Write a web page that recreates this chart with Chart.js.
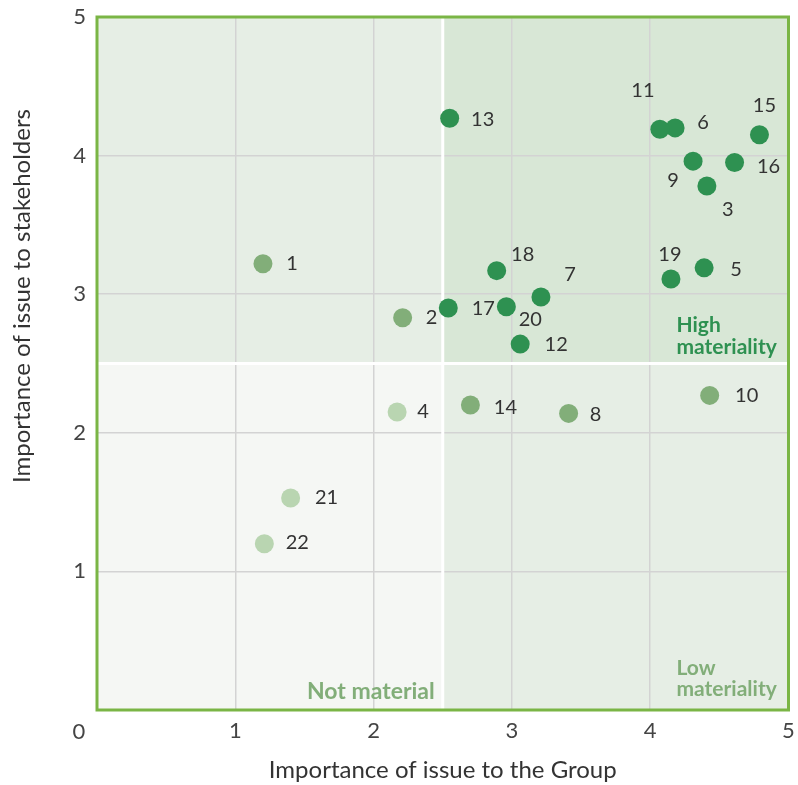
<!DOCTYPE html>
<html>
<head>
<meta charset="utf-8">
<script src="https://cdn.jsdelivr.net/npm/chart.js@4/dist/chart.umd.min.js"></script>
<style>
  html, body { margin: 0; padding: 0; background: #ffffff; }
  #wrap { width: 798px; height: 785px; position: relative; }
</style>
</head>
<body>
<div id="wrap"><canvas id="chart" width="798" height="785"></canvas></div>
<script>
// Materiality assessment: each issue scored by importance to the Group (x)
// and importance to stakeholders (y).
const issueIds = ['1','2','3','4','5','6','7','8','9','10','11','12','13','14','15','16','17','18','19','20','21','22'];
const groupScores = [1.20, 2.21, 4.41, 2.17, 4.39, 4.18, 3.21, 3.41, 4.31, 4.43, 4.07, 3.06, 2.55, 2.70, 4.79, 4.61, 2.54, 2.89, 4.15, 2.96, 1.40, 1.21];
const stakeholderScores = [3.22, 2.83, 3.78, 2.15, 3.19, 4.20, 2.98, 2.14, 3.96, 2.27, 4.19, 2.64, 4.27, 2.20, 4.15, 3.95, 2.90, 3.17, 3.11, 2.91, 1.53, 1.20];
const tiers = ['low','low','high','not','high','high','high','low','high','low','high','high','high','low','high','high','high','high','high','high','not','not'];
const axisTicks = [0, 1, 2, 3, 4, 5];
const threshold = 2.5;

// Styling
const FONT = 'Lato, "Open Sans", sans-serif';
const tierColors = { high: '#2e9151', low: '#82ae79', not: '#b9d5b1' };
const quadrantFill = {
  topLeft: '#e6eee5',
  topRight: '#d8e7d6',
  bottomLeft: '#f5f7f4',
  bottomRight: '#e6eee5'
};
// label placement around each marker (dx, dy in px from the marker centre)
const labelOffsets = {
  '1': [29, 0], '2': [29, 0], '3': [21, 23], '4': [26, 0], '5': [32, 2],
  '6': [28, -5], '7': [29, -22], '8': [27, 1], '9': [-20, 19], '10': [37, 0],
  '11': [-17, -39], '12': [36, 0], '13': [33, 1], '14': [35, 2], '15': [5, -29],
  '16': [34, 4], '17': [35, 0], '18': [26, -16], '19': [-1, -24], '20': [24, 13],
  '21': [36, 0], '22': [33, -1]
};

const points = groupScores.map((x, i) => ({ x: x, y: stakeholderScores[i] }));

const quadrantPlugin = {
  id: 'quadrants',
  beforeDraw(chart) {
    const { ctx, chartArea: a, scales: { x, y } } = chart;
    const mx = x.getPixelForValue(threshold);
    const my = y.getPixelForValue(threshold);
    ctx.save();
    ctx.fillStyle = quadrantFill.topLeft;     ctx.fillRect(a.left, a.top, mx - a.left, my - a.top);
    ctx.fillStyle = quadrantFill.topRight;    ctx.fillRect(mx, a.top, a.right - mx, my - a.top);
    ctx.fillStyle = quadrantFill.bottomLeft;  ctx.fillRect(a.left, my, mx - a.left, a.bottom - my);
    ctx.fillStyle = quadrantFill.bottomRight; ctx.fillRect(mx, my, a.right - mx, a.bottom - my);
    ctx.restore();
  },
  beforeDatasetsDraw(chart) {
    const { ctx, chartArea: a, scales: { x, y } } = chart;
    const mx = x.getPixelForValue(threshold);
    const my = y.getPixelForValue(threshold);
    ctx.save();
    ctx.strokeStyle = '#ffffff';
    ctx.lineWidth = 3;
    ctx.beginPath();
    ctx.moveTo(mx, a.top); ctx.lineTo(mx, a.bottom);
    ctx.moveTo(a.left, my); ctx.lineTo(a.right, my);
    ctx.stroke();

    // quadrant captions
    ctx.font = 'bold 21px ' + FONT;
    ctx.textBaseline = 'middle';
    ctx.textAlign = 'left';
    ctx.fillStyle = tierColors.high;
    ctx.fillText('High', a.right - 112, my - 38);
    ctx.fillText('materiality', a.right - 112, my - 16);
    ctx.fillStyle = tierColors.low;
    ctx.fillText('Low', a.right - 112, a.bottom - 42);
    ctx.fillText('materiality', a.right - 112, a.bottom - 21);
    ctx.font = 'bold 23px ' + FONT;
    ctx.textAlign = 'right';
    ctx.fillText('Not material', mx - 8, a.bottom - 18);
    ctx.restore();
  },
  afterDatasetsDraw(chart) {
    const { ctx } = chart;
    const meta = chart.getDatasetMeta(0);
    ctx.save();
    ctx.font = '20px ' + FONT;
    ctx.fillStyle = '#333333';
    ctx.textAlign = 'center';
    ctx.textBaseline = 'middle';
    meta.data.forEach((el, i) => {
      const id = issueIds[i];
      const off = labelOffsets[id] || [28, 0];
      ctx.fillText(id, el.x + off[0], el.y + off[1]);
    });
    ctx.restore();
  },
  afterDraw(chart) {
    const { ctx, chartArea: a } = chart;
    ctx.save();
    ctx.strokeStyle = '#7ab545';
    ctx.lineWidth = 3;
    ctx.strokeRect(a.left, a.top, a.right - a.left, a.bottom - a.top);

    // shared origin label and axis titles
    ctx.fillStyle = '#444444';
    ctx.font = '22px ' + FONT;
    ctx.textAlign = 'center';
    ctx.textBaseline = 'middle';
    ctx.fillText('0', a.left - 18, a.bottom + 22);

    ctx.fillStyle = '#333333';
    ctx.font = '24px ' + FONT;
    ctx.fillText('Importance of issue to the Group', (a.left + a.right) / 2, a.bottom + 60);
    ctx.translate(22, 296);
    ctx.rotate(-Math.PI / 2);
    ctx.fillText('Importance of issue to stakeholders', 0, 0);
    ctx.restore();
  }
};

new Chart(document.getElementById('chart'), {
  type: 'scatter',
  data: {
    datasets: [{
      data: points,
      backgroundColor: tiers.map(t => tierColors[t]),
      borderWidth: 0,
      pointRadius: 9.5,
      pointHoverRadius: 9.5
    }]
  },
  options: {
    responsive: false,
    animation: false,
    events: [],
    layout: { padding: { left: 0, top: 17, right: 8, bottom: 0 } },
    plugins: { legend: { display: false }, tooltip: { enabled: false } },
    scales: {
      x: {
        type: 'linear', min: 0, max: 5,
        afterBuildTicks(scale) { scale.ticks = axisTicks.map(v => ({ value: v })); },
        afterFit(scale) { scale.height = 75; },
        grid: { color: '#d3d3d3', lineWidth: 1.5, drawTicks: true, tickLength: 8, tickColor: 'rgba(0,0,0,0)' },
        border: { display: false },
        ticks: {
          padding: 0, color: '#444444', font: { family: FONT, size: 22 },
          callback: v => (v === 0 ? '' : String(v))
        }
      },
      y: {
        type: 'linear', min: 0, max: 5,
        afterBuildTicks(scale) { scale.ticks = axisTicks.map(v => ({ value: v })); },
        afterFit(scale) { scale.width = 97; },
        grid: { color: '#d3d3d3', lineWidth: 1.5, drawTicks: true, tickLength: 11, tickColor: 'rgba(0,0,0,0)' },
        border: { display: false },
        ticks: {
          padding: 0, color: '#444444', font: { family: FONT, size: 22 },
          callback: v => (v === 0 ? '' : String(v))
        }
      }
    }
  },
  plugins: [quadrantPlugin]
});
</script>
</body>
</html>
